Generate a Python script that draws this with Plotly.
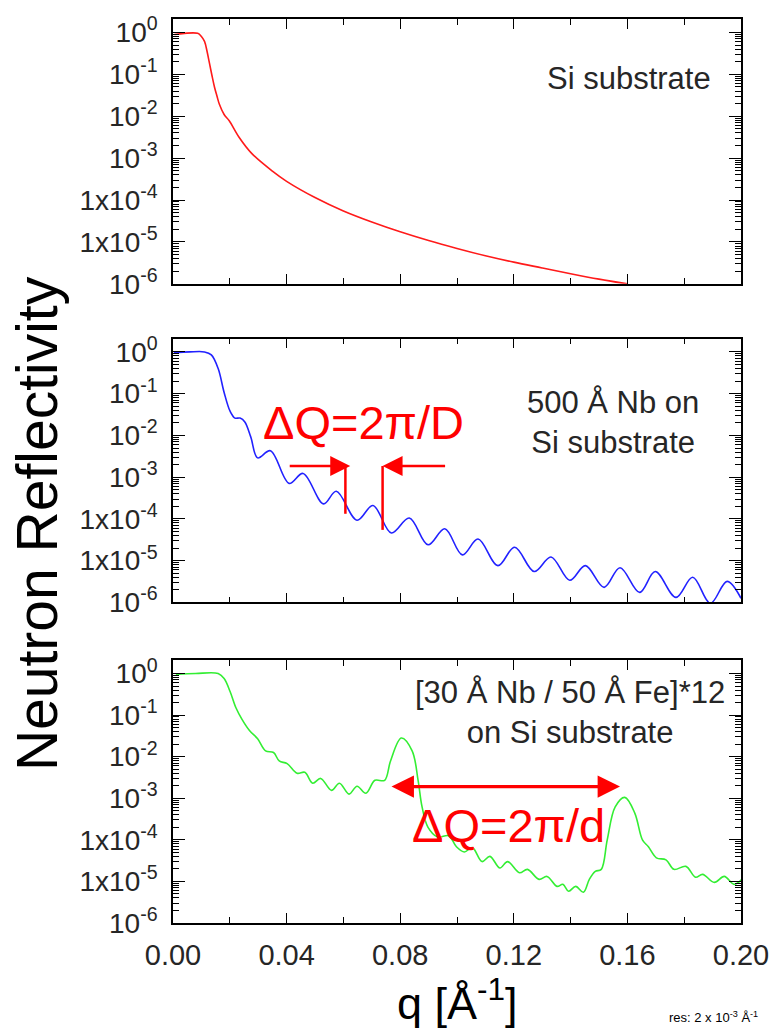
import plotly.graph_objects as go

# ---------------- data ----------------
q_si = [0.0005, 0.004, 0.0087, 0.0100, 0.0111, 0.0120, 0.0128, 0.0137, 0.0146, 0.0155,
        0.0163, 0.018, 0.0198, 0.0232, 0.0277, 0.035, 0.040, 0.050, 0.060, 0.070,
        0.080, 0.090, 0.100, 0.110, 0.120, 0.130, 0.140, 0.150, 0.160]
r_si = [0.89, 0.95, 0.95, 0.8, 0.61, 0.35, 0.19, 0.095, 0.05, 0.03,
        0.0196, 0.011, 0.0078, 0.0032, 0.0013, 4.9e-4, 2.8e-4, 1.15e-4, 5.5e-5, 3.0e-5,
        1.75e-5, 1.08e-5, 7.0e-6, 4.7e-6, 3.3e-6, 2.4e-6, 1.75e-6, 1.3e-6, 1.0e-6]

q_nb = [0.0003, 0.0059, 0.0111, 0.0135, 0.0159, 0.0180, 0.0201, 0.0218, 0.0236, 0.0253,
        0.0274, 0.0298, 0.0343, 0.0409, 0.0458, 0.0530, 0.0575, 0.0648, 0.0704, 0.0769,
        0.0832, 0.0898, 0.0957, 0.1019, 0.1074, 0.1144, 0.1203, 0.1272, 0.1331, 0.1397,
        0.1452, 0.1518, 0.1574, 0.1643, 0.1698, 0.1771, 0.1830, 0.1892, 0.1951, 0.2000]
r_nb = [0.95, 1.0, 1.0, 0.85, 0.40, 0.107, 0.038, 0.026, 0.026, 0.021,
        0.0091, 0.0029, 0.0043, 7.1e-4, 1.23e-3, 2.3e-4, 4.6e-4, 9.3e-5, 2.1e-4, 4.6e-5,
        1.05e-4, 2.4e-5, 5.8e-5, 1.38e-5, 3.3e-5, 7.6e-6, 2.1e-5, 5.5e-6, 1.23e-5, 3.4e-6,
        7.6e-6, 2.3e-6, 6.8e-6, 1.74e-6, 5.5e-6, 1.32e-6, 4.0e-6, 9.5e-7, 3.2e-6, 1.26e-6]

q_ml = [0.001, 0.008, 0.0159, 0.0180, 0.0201, 0.0222, 0.0243, 0.0270, 0.0298, 0.0326,
        0.0354, 0.0374, 0.0402, 0.0437, 0.0464, 0.0492, 0.0520, 0.0558, 0.0586, 0.0620,
        0.0648, 0.0679, 0.0711, 0.0745, 0.0766, 0.0804, 0.0842, 0.0863, 0.0877, 0.0898,
        0.0932, 0.0971, 0.0998, 0.1026, 0.1054, 0.1088, 0.1116, 0.1151, 0.1178, 0.1220,
        0.1248, 0.1289, 0.1317, 0.1352, 0.1373, 0.1393, 0.1418, 0.1445, 0.1466, 0.1487,
        0.1508, 0.1529, 0.1557, 0.1591, 0.1626, 0.1653, 0.1674, 0.1702, 0.1736, 0.1764,
        0.1806, 0.1840, 0.1865, 0.1906, 0.1941, 0.1976, 0.2003]
r_ml = [0.95, 1.0, 1.0, 0.76, 0.37, 0.148, 0.079, 0.042, 0.027, 0.0138,
        0.0126, 0.0079, 0.0068, 0.0040, 0.0042, 0.0023, 0.0030, 0.00155, 0.0023, 0.00126,
        0.00195, 0.00132, 0.0027, 0.0027, 0.0079, 0.028, 0.0138, 0.0027, 6.2e-4, 2.0e-4,
        1.17e-4, 1.26e-4, 6.8e-5, 5.1e-5, 6.5e-5, 3.0e-5, 4.0e-5, 2.1e-5, 3.0e-5, 1.62e-5,
        1.95e-5, 1.12e-5, 1.32e-5, 7.6e-6, 8.5e-6, 5.8e-6, 7.6e-6, 5.5e-6, 1.12e-5, 1.74e-5,
        1.95e-5, 1.0e-4, 6.2e-4, 1.05e-3, 4.4e-4, 1.0e-4, 6.8e-5, 3.7e-5, 3.3e-5, 1.95e-5,
        2.3e-5, 1.26e-5, 1.48e-5, 9.5e-6, 1.32e-5, 8.5e-6, 1.12e-5]

y_tickvals = [1, 1e-1, 1e-2, 1e-3, 1e-4, 1e-5, 1e-6]
y_ticktext = ["10<sup>0</sup>", "10<sup>-1</sup>", "10<sup>-2</sup>", "10<sup>-3</sup>",
              "1x10<sup>-4</sup>", "1x10<sup>-5</sup>", "10<sup>-6</sup>"]
x_tickvals = [0.00, 0.04, 0.08, 0.12, 0.16, 0.20]
x_ticktext = ["0.00", "0.04", "0.08", "0.12", "0.16", "0.20"]

FONT = "Liberation Sans, Arial, sans-serif"
TXT = "#262626"

fig = go.Figure()
fig.add_trace(go.Scatter(x=q_si, y=r_si, mode="lines", line=dict(color="#ff1a1a", width=1.6, shape="spline"),
                         xaxis="x", yaxis="y", showlegend=False))
fig.add_trace(go.Scatter(x=q_nb, y=r_nb, mode="lines", line=dict(color="#2222ff", width=1.6, shape="spline"),
                         xaxis="x2", yaxis="y2", showlegend=False))
fig.add_trace(go.Scatter(x=q_ml, y=r_ml, mode="lines", line=dict(color="#33ee33", width=1.6, shape="spline"),
                         xaxis="x3", yaxis="y3", showlegend=False))

minor_y = [k * 10.0 ** d for d in range(-6, 1) for k in range(2, 10)]

def xax(anchor, labels):
    return dict(domain=[0, 1], anchor=anchor, range=[0, 0.2], showline=True, linecolor="black",
                linewidth=1.5, mirror="ticks", ticks="inside", ticklen=10, tickwidth=1.3, tickcolor="black",
                tickmode="array", tickvals=x_tickvals, ticktext=x_ticktext, showticklabels=labels,
                tickfont=dict(family=FONT, size=29, color=TXT), ticklabelstandoff=5,
                showgrid=False, zeroline=False,
                minor=dict(ticks="inside", ticklen=6, tickwidth=1.3, tickcolor="black", dtick=0.02, tick0=0, showgrid=False))

def yax(anchor, dom):
    return dict(domain=dom, anchor=anchor, type="log", range=[-6, 0.32], showline=True, linecolor="black",
                linewidth=1.5, mirror="ticks", ticks="inside", ticklen=12, tickwidth=1.3, tickcolor="black",
                tickmode="array", tickvals=y_tickvals, ticktext=y_ticktext,
                tickfont=dict(family=FONT, size=28, color=TXT), ticklabelstandoff=8,
                showgrid=False, zeroline=False,
                minor=dict(ticks="inside", ticklen=6, tickwidth=1.1, tickcolor="black",
                           tickmode="array", tickvals=minor_y, showgrid=False))

def note(text, xref, yref, x, y, size, color, **kw):
    d = dict(text=text, xref=xref, yref=yref, x=x, y=y, showarrow=False,
             xanchor="center", yanchor="middle", font=dict(family=FONT, size=size, color=color))
    d.update(kw)
    return d

annotations = [
    note("Si substrate", "x", "y domain", 0.1605, 0.774, 31, TXT),
    note("500 Å Nb on<br>Si substrate", "x2", "y2 domain", 0.155, 0.683, 31, TXT),
    note("[30 Å Nb / 50 Å Fe]*12<br>on Si substrate", "x3", "y3 domain", 0.1397, 0.80, 31, TXT),
    note("ΔQ=2π/D", "x2", "y2 domain", 0.0672, 0.683, 47, "#ff0000"),
    note("ΔQ=2π/d", "x3", "y3 domain", 0.1182, 0.371, 47, "#ff0000"),
    # arrows
    dict(text="", xref="x2", yref="y2 domain", x=0.0624, y=0.517, ax=-62, ay=0, showarrow=True,
         arrowhead=2, arrowsize=1.6, arrowwidth=2.5, arrowcolor="#ff0000", standoff=0, startstandoff=0),
    dict(text="", xref="x2", yref="y2 domain", x=0.0738, y=0.517, ax=64, ay=0, showarrow=True,
         arrowhead=2, arrowsize=1.6, arrowwidth=2.5, arrowcolor="#ff0000", standoff=0, startstandoff=0),
    dict(text="", xref="x3", yref="y3 domain", x=0.1574, y=0.519, ax=-230, ay=0, showarrow=True,
         arrowhead=2, startarrowhead=2, arrowside="end+start", arrowsize=1.4, startarrowsize=1.4,
         arrowwidth=3.2, arrowcolor="#ff0000", standoff=0, startstandoff=0),
    # axis titles
    note("Neutron Reflectivity", "paper", "paper", -0.239, 0.4416, 57, "black", textangle=-90),
    note("q [Å<sup>-1</sup>]", "paper", "paper", 0.5009, -0.0848, 45, "black"),
    note("res: 2 x 10<sup>-3</sup> Å<sup>-1</sup>", "paper", "paper", 1.033, -0.1035, 13, "black",
         xanchor="right"),
]

shapes = [
    dict(type="line", xref="x2", yref="y2 domain", x0=0.0607, x1=0.0607, y0=0.517, y1=0.336,
         line=dict(color="#ff0000", width=2.5)),
    dict(type="line", xref="x2", yref="y2 domain", x0=0.0738, x1=0.0738, y0=0.517, y1=0.275,
         line=dict(color="#ff0000", width=2.5)),
]

fig.update_layout(
    width=781, height=1034,
    margin=dict(l=173, r=31, t=15, b=111),
    paper_bgcolor="white", plot_bgcolor="white",
    xaxis=xax("y", False), yaxis=yax("x", [0.707, 1.0]),
    xaxis2=xax("y2", False), yaxis2=yax("x2", [0.3546, 0.6465]),
    xaxis3=xax("y3", True), yaxis3=yax("x3", [0.0, 0.2907]),
    annotations=annotations, shapes=shapes,
)

fig.write_html("out.html")
